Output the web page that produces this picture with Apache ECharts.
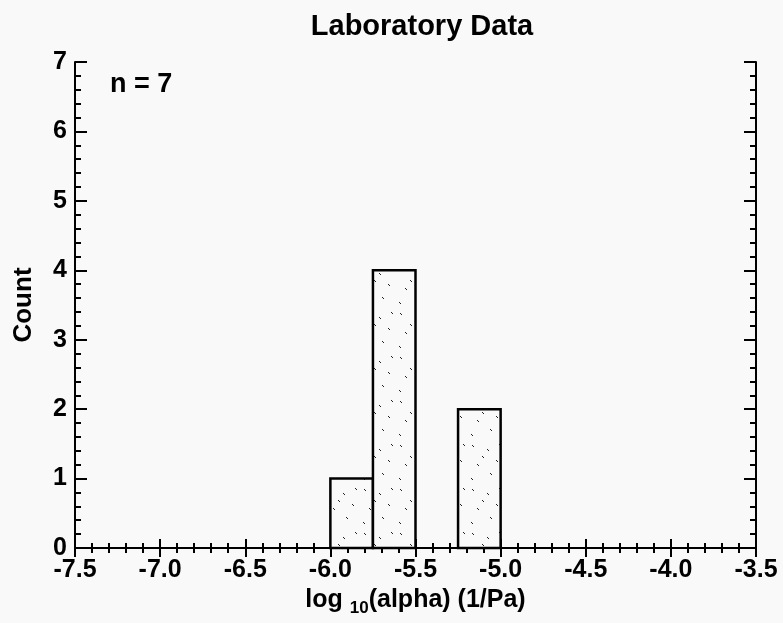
<!DOCTYPE html>
<html>
<head>
<meta charset="utf-8">
<script src="https://cdn.jsdelivr.net/npm/echarts@6/dist/echarts.min.js"></script>
<style>
  html, body { margin: 0; padding: 0; background: #f9f9f9; }
  #chart { width: 783px; height: 623px; }
</style>
</head>
<body>
<div id="chart"></div>
<script>
// histogram bins (log10 alpha) and counts
var binStart = [-6.0, -5.75, -5.25];
var binEnd   = [-5.75, -5.5, -5.0];
var counts   = [1, 4, 2];

var histData = binStart.map(function (s, i) { return [s, binEnd[i], counts[i]]; });

// speckled fill like the scanned stipple
var pat = document.createElement('canvas');
pat.width = 36; pat.height = 44;
var pc = pat.getContext('2d');
pc.fillStyle = '#f9f9f9';
pc.fillRect(0, 0, 36, 44);
pc.strokeStyle = '#222';
pc.lineWidth = 1;
[[4,5],[19,9],[28,20],[9,24],[22,33],[3,38],[31,4],[14,16]].forEach(function (p) {
    pc.beginPath();
    pc.moveTo(p[0], p[1]);
    pc.lineTo(p[0] + 2, p[1] + 2);
    pc.stroke();
});

var font = '"Liberation Sans", Arial, sans-serif';
var chart = echarts.init(document.getElementById('chart'));

function frameAxis(extra) {
    var a = {
        type: 'value',
        axisLine: { show: true, lineStyle: { color: '#000', width: 2 } },
        axisTick: { show: true, inside: true, length: 9, lineStyle: { color: '#000', width: 2 } },
        minorTick: { show: true, splitNumber: 5, length: 5, lineStyle: { color: '#000', width: 2 } },
        splitLine: { show: false }
    };
    for (var k in extra) a[k] = extra[k];
    return a;
}

var option = {
    backgroundColor: '#f9f9f9',
    animation: false,
    title: {
        text: 'Laboratory Data',
        left: 417,
        top: 7,
        textAlign: 'center',
        textStyle: { fontFamily: font, fontWeight: 'bold', fontSize: 29, color: '#000' }
    },
    graphic: [{
        type: 'text',
        left: 110,
        top: 71,
        style: { text: 'n = 7', font: 'bold 27px ' + font, fill: '#000' }
    }],
    grid: { left: 75, right: 27, top: 62, bottom: 75 },
    xAxis: [frameAxis({
        min: -7.5, max: -3.5, interval: 0.5,
        name: 'log {sub|10}(alpha) (1/Pa)',
        nameLocation: 'middle',
        nameGap: 20,
        nameTextStyle: {
            fontFamily: font, fontWeight: 'bold', fontSize: 25, color: '#000',
            rich: { sub: { fontFamily: font, fontWeight: 'bold', fontSize: 17, color: '#000', verticalAlign: 'bottom', padding: [16, 0, 0, 0] } }
        },
        axisLabel: {
            margin: 10, fontFamily: font, fontWeight: 'bold', fontSize: 25, color: '#000',
            formatter: function (v) { return v.toFixed(1); }
        }
    }), frameAxis({
        position: 'top',
        min: -7.5, max: -3.5, interval: 0.5,
        axisLabel: { show: false }
    })],
    yAxis: [frameAxis({
        min: 0, max: 7, interval: 1,
        name: 'Count',
        nameLocation: 'middle',
        nameGap: 38,
        nameTextStyle: { fontFamily: font, fontWeight: 'bold', fontSize: 26, color: '#000' },
        axisTick: { show: true, inside: true, length: 12, lineStyle: { color: '#000', width: 2 } },
        minorTick: { show: true, splitNumber: 5, length: 6, lineStyle: { color: '#000', width: 2 } },
        axisLabel: { margin: 8, fontFamily: font, fontWeight: 'bold', fontSize: 25, color: '#000' }
    }), frameAxis({
        position: 'right',
        min: 0, max: 7, interval: 1,
        axisTick: { show: true, inside: true, length: 12, lineStyle: { color: '#000', width: 2 } },
        minorTick: { show: true, splitNumber: 5, length: 6, lineStyle: { color: '#000', width: 2 } },
        axisLabel: { show: false }
    })],
    series: [{
        type: 'custom',
        xAxisIndex: 0,
        yAxisIndex: 0,
        data: histData,
        encode: { x: [0, 1], y: 2 },
        renderItem: function (params, api) {
            var p0 = api.coord([api.value(0), api.value(2)]);
            var p1 = api.coord([api.value(1), 0]);
            return {
                type: 'rect',
                shape: { x: p0[0], y: p0[1], width: p1[0] - p0[0], height: p1[1] - p0[1] },
                style: { fill: { image: pat, repeat: 'repeat' }, stroke: '#000', lineWidth: 2.5 }
            };
        }
    }]
};

chart.setOption(option);
</script>
</body>
</html>
